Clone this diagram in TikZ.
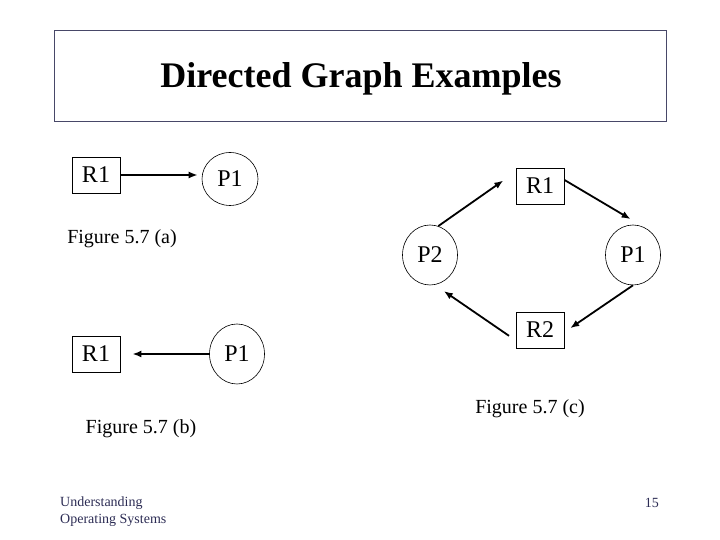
\documentclass[tikz,border=0pt]{standalone}
\usepackage{fontspec}
\setmainfont{Liberation Serif}
\usepackage{tikz}
\usetikzlibrary{arrows.meta,shapes.geometric}
\definecolor{framegray}{RGB}{72,72,104}
\definecolor{footnavy}{RGB}{44,44,84}

\begin{document}
\begin{tikzpicture}[
    x=1pt, y=1pt,
    res/.style={draw, line width=0.8pt, minimum width=48pt, minimum height=36pt, inner sep=0pt, font=\fontsize{24}{29}\selectfont},
    proc/.style={draw, ellipse, line width=0.6pt, minimum width=55pt, minimum height=60pt, inner sep=0pt, font=\fontsize{24}{29}\selectfont},
    figlabel/.style={anchor=base, font=\fontsize{20}{24}\selectfont},
    edge/.style={line width=1.8pt, -{Latex[length=9pt,width=7pt]}}
]
\useasboundingbox (0,0) rectangle (720,540);

\node[draw=framegray, line width=0.8pt, minimum width=612pt, minimum height=91pt] (frame) at (360,464.5) {};
\node[anchor=base, font=\fontsize{36}{43}\selectfont\bfseries] (title) at (361,452) {Directed Graph Examples};

% Figure 5.7 (a)
\node[res] (r1a) at (96,365) {R1};
\node[proc, minimum width=56pt, minimum height=53pt] (p1a) at (230,361) {P1};
\draw[edge, shorten >=4pt] (r1a.east) -- (r1a.east -| p1a.west);
\node[figlabel] (figa) at (122,296) {Figure 5.7 (a)};

% Figure 5.7 (b)
\node[res] (r1b) at (96,186) {R1};
\node[proc] (p1b) at (237,186) {P1};
\draw[edge, shorten >=12pt] (p1b) -- (r1b);
\node[figlabel] (figb) at (141,106) {Figure 5.7 (b)};

% Figure 5.7 (c)
\node[res] (r1c) at (540,354) {R1};
\node[proc] (p2c) at (430,285) {P2};
\node[proc] (p1c) at (633,285) {P1};
\node[res] (r2c) at (540,210) {R2};
\draw[edge, shorten >=15pt] (p2c.74) -- (r1c.150);
\draw[edge, shorten >=20pt] (r1c.14) -- (p1c.60);
\draw[edge, shorten >=7pt] (p1c.south) -- (r2c.-5);
\draw[edge, shorten <=8pt, shorten >=11pt] (r2c.203) -- (p2c.-81);
\node[figlabel] (figc) at (530,126) {Figure 5.7 (c)};

% footer
\node[anchor=north west, align=left, inner sep=0pt, text=footnavy, font=\fontsize{14}{17}\selectfont] (course) at (60,43) {Understanding\\Operating Systems};
\node[anchor=base east, inner sep=0pt, text=footnavy, font=\fontsize{14}{17}\selectfont] (page) at (659,32) {15};
\end{tikzpicture}
\end{document}
